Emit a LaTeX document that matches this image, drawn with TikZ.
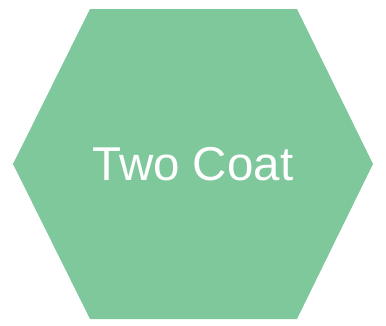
\documentclass[tikz,border=0pt]{standalone}
\usepackage{fontspec}
\setmainfont{Liberation Sans}
\definecolor{hexgreen}{HTML}{7FC89C}
\begin{document}
\begin{tikzpicture}[x=1pt,y=1pt]
\useasboundingbox (0,0) rectangle (386,325);
\fill[hexgreen] (13,161) -- (90,316) -- (297,316) -- (373,161) -- (297,6) -- (90,6) -- cycle;
\node[text=white, font=\fontsize{47.5}{52}\selectfont, inner sep=0pt, anchor=base] (label) at (193,144.5) {Two Coat};
\end{tikzpicture}
\end{document}
